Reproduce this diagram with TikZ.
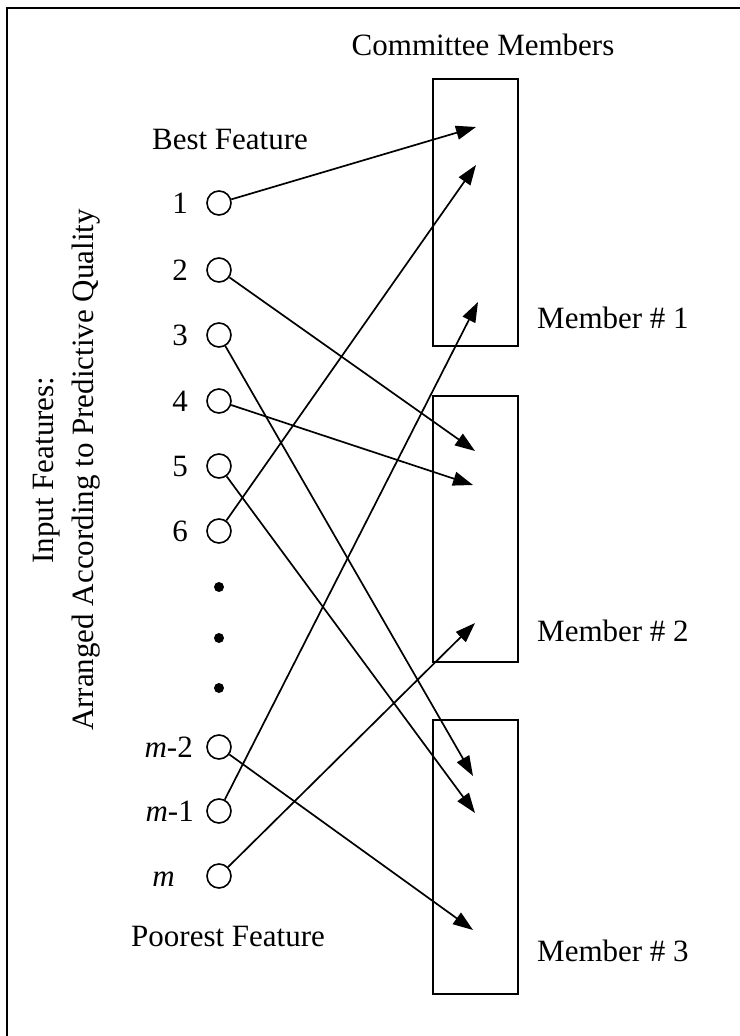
\documentclass[tikz,border=0pt]{standalone}
\usepackage{fontspec}
\setmainfont{Liberation Serif}
\usetikzlibrary{arrows.meta}
\begin{document}
\begin{tikzpicture}[x=1pt,y=-1pt,
  every node/.style={font=\fontsize{31}{40}\selectfont, inner sep=0pt},
  feat/.style={circle, draw, line width=1.6pt, minimum size=24pt, inner sep=0pt},
  dotmark/.style={circle, fill, minimum size=10pt, inner sep=0pt},
  memberbox/.style={draw, line width=2.4pt},
  link/.style={line width=1.7pt, -{Triangle[length=20pt,width=14pt]}},
  numlab/.style={anchor=base},
  mlab/.style={anchor=base east}]
\useasboundingbox (0,0) rectangle (739,1036);

% open frame (left and top edges)
\draw[line width=2.2pt] (7,1040) -- (7,8) -- (745,8);

% committee member boxes
\draw[memberbox] (433,79) rectangle (518,346);
\draw[memberbox] (433,396) rectangle (518,662);
\draw[memberbox] (433,720) rectangle (518,994);

\node (title) at (483,45) {Committee Members};
\node[anchor=west] (mem1) at (537,318) {Member \# 1};
\node[anchor=west] (mem2) at (537,631) {Member \# 2};
\node[anchor=west] (mem3) at (537,951) {Member \# 3};

% features
\node (best) at (230,140) {Best Feature};
\node[anchor=west] (poor) at (131,936) {Poorest Feature};

\node[feat] (f1) at (219,203) {};
\node[feat] (f2) at (219,270) {};
\node[feat] (f3) at (219,335) {};
\node[feat] (f4) at (219,401) {};
\node[feat] (f5) at (219,466) {};
\node[feat] (f6) at (219,531) {};
\node[feat] (fm2) at (219,747) {};
\node[feat] (fm1) at (219,811) {};
\node[feat] (fm) at (219,876) {};

\node[dotmark] (d1) at (219,587) {};
\node[dotmark] (d2) at (219,638) {};
\node[dotmark] (d3) at (219,688) {};

\node[numlab] (l1) at (180,213) {1};
\node[numlab] (l2) at (180,280) {2};
\node[numlab] (l3) at (180,345) {3};
\node[numlab] (l4) at (180,411) {4};
\node[numlab] (l5) at (180,476) {5};
\node[numlab] (l6) at (180,541) {6};
\node[mlab] (lm2) at (193,757) {\textit{m}-2};
\node[mlab] (lm1) at (194,821) {\textit{m}-1};
\node[mlab] (lm) at (175,886) {\textit{m}};

\node[rotate=90, align=center] (axis) at (67,470)
  {Input Features:\\Arranged According to Predictive Quality};

% arrow targets inside the boxes
\coordinate (t1) at (476,127);
\coordinate (t6) at (476,165);
\coordinate (tm1) at (478,302);
\coordinate (t2) at (475,451);
\coordinate (t4) at (473,485);
\coordinate (tm) at (475,623);
\coordinate (t3) at (473,776);
\coordinate (t5) at (475,813);
\coordinate (tm2) at (473,930);

\draw[link] (f1) -- (t1);
\draw[link] (f6) -- (t6);
\draw[link] (fm1) -- (tm1);
\draw[link] (f2) -- (t2);
\draw[link] (f4) -- (t4);
\draw[link] (fm) -- (tm);
\draw[link] (f3) -- (t3);
\draw[link] (f5) -- (t5);
\draw[link] (fm2) -- (tm2);
\end{tikzpicture}
\end{document}
